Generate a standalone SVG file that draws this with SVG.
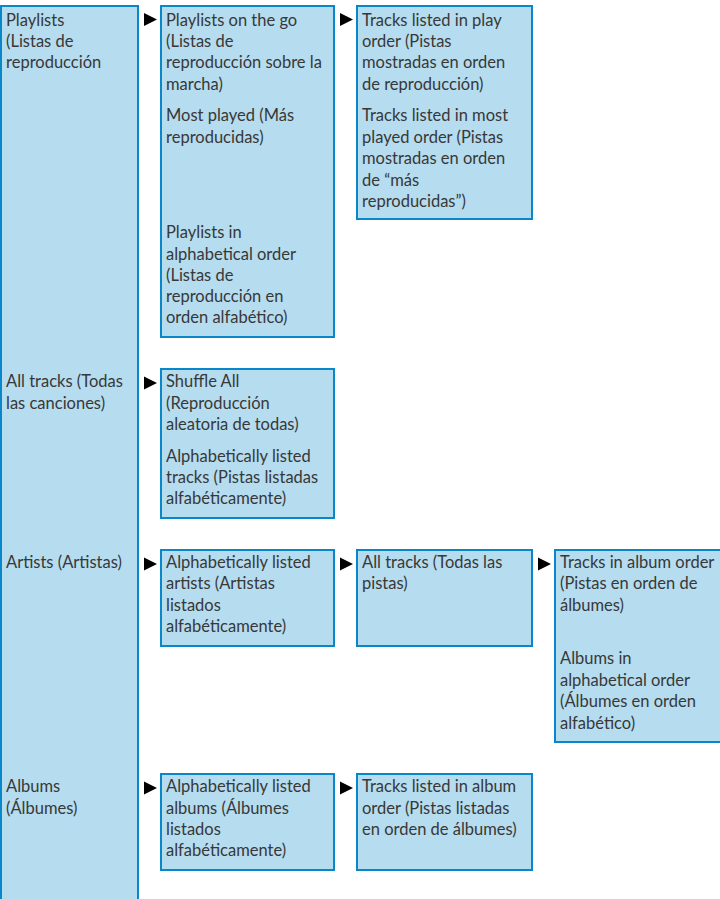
<svg xmlns="http://www.w3.org/2000/svg" width="720" height="899" viewBox="0 0 720 899">
<style>
.box{fill:#b5dcef;stroke:#0a87c9;stroke-width:2}
text{font-family:"Lato","Open Sans","Liberation Sans",sans-serif;font-size:16.5px;fill:#383838}
.arr{fill:#000}
</style>
<rect width="720" height="899" fill="#fff"/>
<g id="n-root">
<rect class="box" x="1" y="6" width="137" height="900"/>
<text x="6" y="26">Playlists</text>
<text x="6" y="47">(Listas de</text>
<text x="6" y="68">reproducción</text>
<text x="6" y="387">All tracks (Todas</text>
<text x="6" y="409">las canciones)</text>
<text x="6" y="568">Artists (Artistas)</text>
<text x="6" y="792">Albums</text>
<text x="6" y="814">(Álbumes)</text>
</g>
<g id="n-playlists">
<rect class="box" x="161" y="6" width="173" height="331"/>
<text x="166" y="26">Playlists on the go</text>
<text x="166" y="47">(Listas de</text>
<text x="166" y="68">reproducción sobre la</text>
<text x="166" y="90">marcha)</text>
<text x="166" y="121">Most played (Más</text>
<text x="166" y="143">reproducidas)</text>
<text x="166" y="238">Playlists in</text>
<text x="166" y="260">alphabetical order</text>
<text x="166" y="281">(Listas de</text>
<text x="166" y="302">reproducción en</text>
<text x="166" y="323">orden alfabético)</text>
</g>
<g id="n-tracks-play">
<rect class="box" x="357" y="6" width="175" height="213"/>
<text x="362" y="26">Tracks listed in play</text>
<text x="362" y="47">order (Pistas</text>
<text x="362" y="68">mostradas en orden</text>
<text x="362" y="90">de reproducción)</text>
<text x="362" y="121">Tracks listed in most</text>
<text x="362" y="143">played order (Pistas</text>
<text x="362" y="164">mostradas en orden</text>
<text x="362" y="186">de “más</text>
<text x="362" y="207">reproducidas”)</text>
</g>
<g id="n-shuffle">
<rect class="box" x="161" y="369" width="173" height="149"/>
<text x="166" y="387">Shuffle All</text>
<text x="166" y="409">(Reproducción</text>
<text x="166" y="430">aleatoria de todas)</text>
<text x="166" y="462">Alphabetically listed</text>
<text x="166" y="483">tracks (Pistas listadas</text>
<text x="166" y="504">alfabéticamente)</text>
</g>
<g id="n-artists">
<rect class="box" x="161" y="550" width="173" height="96"/>
<text x="166" y="568">Alphabetically listed</text>
<text x="166" y="589">artists (Artistas</text>
<text x="166" y="611">listados</text>
<text x="166" y="632">alfabéticamente)</text>
</g>
<g id="n-alltracks">
<rect class="box" x="357" y="550" width="175" height="96"/>
<text x="362" y="568">All tracks (Todas las</text>
<text x="362" y="589">pistas)</text>
</g>
<g id="n-albumorder">
<rect class="box" x="555" y="550" width="180" height="192"/>
<text x="560" y="568">Tracks in album order</text>
<text x="560" y="589">(Pistas en orden de</text>
<text x="560" y="611">álbumes)</text>
<text x="560" y="664">Albums in</text>
<text x="560" y="686">alphabetical order</text>
<text x="560" y="707">(Álbumes en orden</text>
<text x="560" y="729">alfabético)</text>
</g>
<g id="n-albums">
<rect class="box" x="161" y="774" width="173" height="96"/>
<text x="166" y="792">Alphabetically listed</text>
<text x="166" y="814">albums (Álbumes</text>
<text x="166" y="835">listados</text>
<text x="166" y="856">alfabéticamente)</text>
</g>
<g id="n-albumtracks">
<rect class="box" x="357" y="774" width="175" height="96"/>
<text x="362" y="792">Tracks listed in album</text>
<text x="362" y="814">order (Pistas listadas</text>
<text x="362" y="835">en orden de álbumes)</text>
</g>
<g id="connectors">
<polygon class="arr" points="144,13 157,19.5 144,26"/>
<polygon class="arr" points="340,13 353,19.5 340,26"/>
<polygon class="arr" points="144,376.5 157,383 144,389.5"/>
<polygon class="arr" points="144,557.5 157,564 144,570.5"/>
<polygon class="arr" points="340,557.5 353,564 340,570.5"/>
<polygon class="arr" points="538,557.5 551,564 538,570.5"/>
<polygon class="arr" points="144,781.5 157,788 144,794.5"/>
<polygon class="arr" points="340,781.5 353,788 340,794.5"/>
</g>
</svg>
